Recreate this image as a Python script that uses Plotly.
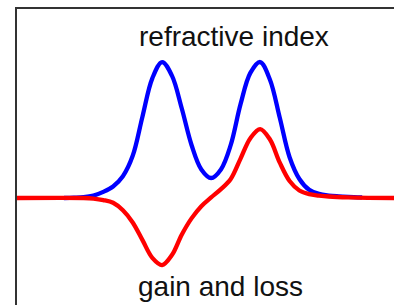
import plotly.graph_objects as go

# detuning (arbitrary units, resonances at -1 and +1)
x_index = [-3.0, -2.8, -2.6, -2.4, -2.2, -2.0, -1.8, -1.6, -1.4, -1.2, -1.0,
           -0.8, -0.6, -0.4, -0.2, 0.0, 0.2, 0.4, 0.6, 0.8, 1.0,
           1.2, 1.4, 1.6, 1.8, 2.0, 2.2, 2.4, 2.6, 2.8, 3.08]
refractive_index = [0.0, 0.002, 0.006, 0.018, 0.045, 0.085, 0.16, 0.31, 0.60, 0.88, 1.0,
                    0.90, 0.66, 0.39, 0.21, 0.147, 0.21, 0.39, 0.69, 0.92, 1.0,
                    0.87, 0.59, 0.30, 0.14, 0.06, 0.03, 0.018, 0.012, 0.008, 0.004]

x_gain = [-3.96, -2.6, -2.4, -2.2, -2.0, -1.8, -1.6, -1.4, -1.2, -1.0,
          -0.8, -0.6, -0.4, -0.2, 0.0, 0.2, 0.4, 0.6, 0.8, 1.0,
          1.2, 1.4, 1.6, 1.8, 2.0, 2.2, 2.4, 2.8, 3.2, 3.73]
gain_loss = [0.0, 0.0, -0.004, -0.015, -0.035, -0.09, -0.18, -0.31, -0.44, -0.493,
             -0.42, -0.27, -0.15, -0.06, 0.004, 0.065, 0.14, 0.29, 0.44, 0.507,
             0.43, 0.26, 0.125, 0.055, 0.028, 0.018, 0.011, 0.004, 0.001, 0.0]

labels = ["refractive index", "gain and loss"]

fig = go.Figure()
fig.add_trace(go.Scatter(x=x_index, y=refractive_index, mode="lines",
                         line=dict(color="#0000ff", width=4.3, shape="spline", smoothing=1),
                         hoverinfo="skip", showlegend=False))
fig.add_trace(go.Scatter(x=x_gain, y=gain_loss, mode="lines",
                         line=dict(color="#ff0000", width=4.3, shape="spline", smoothing=1),
                         hoverinfo="skip", showlegend=False))

fig.add_annotation(x=0.47, y=1.19, xref="x", yref="y", text=labels[0], showarrow=False,
                   font=dict(family="Liberation Sans, Arial, sans-serif", size=28, color="#111111"),
                   xanchor="center", yanchor="middle")
fig.add_annotation(x=0.20, y=-0.65, xref="x", yref="y", text=labels[1], showarrow=False,
                   font=dict(family="Liberation Sans, Arial, sans-serif", size=28, color="#111111"),
                   xanchor="center", yanchor="middle")

fig.update_layout(
    width=394, height=305,
    margin=dict(l=17, r=0, t=9, b=0),
    paper_bgcolor="white", plot_bgcolor="white",
    xaxis=dict(range=[-3.96, 3.73], side="top", showline=True, linecolor="#333333", linewidth=2,
               showgrid=False, zeroline=False, showticklabels=False, ticks=""),
    yaxis=dict(range=[-0.787, 1.39], showline=True, linecolor="#333333", linewidth=2,
               showgrid=False, zeroline=False, showticklabels=False, ticks=""),
)

fig.write_html("out.html", config={"displayModeBar": False, "staticPlot": True},
               post_script="document.body.style.margin='0';document.body.style.overflow='hidden';")
